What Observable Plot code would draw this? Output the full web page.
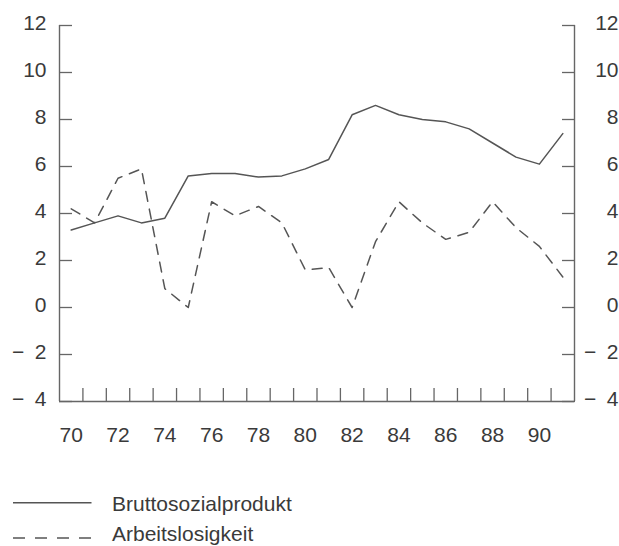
<!DOCTYPE html>
<html>
<head>
<meta charset="utf-8">
<script src="https://cdn.jsdelivr.net/npm/d3@7"></script>
<script src="https://cdn.jsdelivr.net/npm/@observablehq/plot@0.6"></script>
<style>
  body { margin: 0; background: #fff; }
  #wrap { position: relative; width: 619px; height: 546px; font-family: "Liberation Sans", Arial, Helvetica, sans-serif; }
  #legend { position: absolute; left: 0; top: 460px; }
</style>
</head>
<body>
<div id="wrap"></div>
<script>
// ---- data ----
const years = [70, 71, 72, 73, 74, 75, 76, 77, 78, 79, 80, 81, 82, 83, 84, 85, 86, 87, 88, 89, 90, 91];
const bruttosozialprodukt = [3.3, 3.6, 3.9, 3.6, 3.8, 5.6, 5.7, 5.7, 5.55, 5.6, 5.9, 6.3, 8.2, 8.6, 8.2, 8.0, 7.9, 7.6, 7.0, 6.4, 6.1, 7.4];
const arbeitslosigkeit = [4.2, 3.6, 5.5, 5.9, 0.8, 0.0, 4.5, 3.9, 4.3, 3.6, 1.6, 1.7, 0.0, 2.8, 4.5, 3.6, 2.9, 3.2, 4.5, 3.4, 2.6, 1.3];
const xLabelTicks = [70, 72, 74, 76, 78, 80, 82, 84, 86, 88, 90];
const xMinorTicks = [70.5, 71.5, 72.5, 73.5, 74.5, 75.5, 76.5, 77.5, 78.5, 79.5, 80.5, 81.5, 82.5, 83.5, 84.5, 85.5, 86.5, 87.5, 88.5, 89.5, 90.5];
const yTicks = [-4, -2, 0, 2, 4, 6, 8, 10, 12];
const seriesNames = ["Bruttosozialprodukt", "Arbeitslosigkeit"];

const bspRows = years.map((y, i) => ({year: y, value: bruttosozialprodukt[i]}));
const aloRows = years.map((y, i) => ({year: y, value: arbeitslosigkeit[i]}));

const lineColor = "#555";
const axisColor = "#666";
const textColor = "#3a3a3a";
const fmt = d => d < 0 ? "\u2212\u2002" + Math.abs(d) : String(d);

const chart = Plot.plot({
  width: 619,
  height: 460,
  marginLeft: 59,
  marginRight: 45,
  marginTop: 25,
  marginBottom: 59,
  style: {fontFamily: '"Liberation Sans", Arial, Helvetica, sans-serif', fontSize: "21px", color: textColor, background: "white"},
  x: {domain: [69.5, 91.5], axis: null},
  y: {domain: [-4, 12], axis: null},
  marks: [
    Plot.ruleX([69.5, 91.5], {stroke: axisColor, strokeWidth: 1.4}),
    Plot.ruleY([-4], {stroke: axisColor, strokeWidth: 1.4}),
    Plot.axisX(xMinorTicks, {anchor: "bottom", tickSize: -13, text: null, label: null, stroke: axisColor, strokeWidth: 1.3}),
    Plot.axisX(xLabelTicks, {anchor: "bottom", tickSize: 0, tickPadding: 26, label: null, fill: textColor, fontSize: 21, tickFormat: d => String(d)}),
    Plot.axisY(yTicks, {anchor: "left", tickSize: -13, text: null, label: null, stroke: axisColor, strokeWidth: 1.3}),
    Plot.axisY(yTicks, {anchor: "left", tickSize: 0, tickPadding: 13, label: null, fill: textColor, fontSize: 21, tickFormat: fmt, dy: -2}),
    Plot.axisY(yTicks, {anchor: "right", tickSize: -13, text: null, label: null, stroke: axisColor, strokeWidth: 1.3}),
    Plot.axisY(yTicks, {anchor: "right", tickSize: 0, tickPadding: 44, textAnchor: "end", label: null, fill: textColor, fontSize: 21, tickFormat: fmt, dy: -2}),
    Plot.line(bspRows, {x: "year", y: "value", stroke: lineColor, strokeWidth: 1.5}),
    Plot.line(aloRows, {x: "year", y: "value", stroke: lineColor, strokeWidth: 1.5, strokeDasharray: "10,8"})
  ]
});

const wrap = document.getElementById("wrap");
wrap.appendChild(chart);

// legend below the chart
const ns = "http://www.w3.org/2000/svg";
const leg = document.createElementNS(ns, "svg");
leg.setAttribute("id", "legend");
leg.setAttribute("width", 619);
leg.setAttribute("height", 86);
const rows = [
  {name: seriesNames[0], dash: null, ly: 42.7, ty: 50.5},
  {name: seriesNames[1], dash: "12,10", ly: 78, ty: 81}
];
rows.forEach(r => {
  const ln = document.createElementNS(ns, "line");
  ln.setAttribute("x1", 13);
  ln.setAttribute("x2", 91.5);
  ln.setAttribute("y1", r.ly);
  ln.setAttribute("y2", r.ly);
  ln.setAttribute("stroke", lineColor);
  ln.setAttribute("stroke-width", 1.5);
  if (r.dash) ln.setAttribute("stroke-dasharray", r.dash);
  leg.appendChild(ln);
  const t = document.createElementNS(ns, "text");
  t.setAttribute("x", 112);
  t.setAttribute("y", r.ty);
  t.setAttribute("fill", textColor);
  t.setAttribute("font-size", "21px");
  t.setAttribute("font-family", '"Liberation Sans", Arial, Helvetica, sans-serif');
  t.textContent = r.name;
  leg.appendChild(t);
});
wrap.appendChild(leg);
</script>
</body>
</html>
